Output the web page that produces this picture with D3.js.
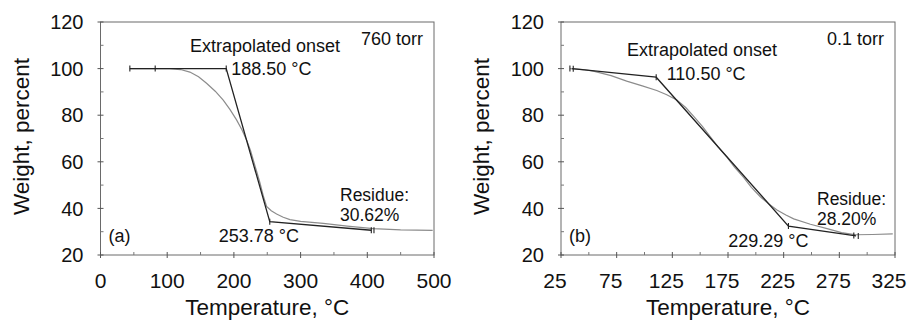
<!DOCTYPE html>
<html>
<head>
<meta charset="utf-8">
<script src="https://cdn.jsdelivr.net/npm/d3@7/dist/d3.min.js"></script>
<style>
  html, body { margin: 0; padding: 0; background: #fff; }
  svg { display: block; font-family: "Liberation Sans", Arial, sans-serif; }
</style>
</head>
<body>
<svg id="chart" width="910" height="321"></svg>
<script>
// ---- TGA curves: temperature (°C) vs. remaining weight (%) ----
const curveA = [
  [44, 100], [80, 100], [104, 100], [120, 99.6], [134, 98.5], [147, 96.5],
  [159, 93.7], [172, 90.3], [184, 86.5], [194, 82.5], [204, 78], [212, 73.8],
  [219, 69.4], [225, 64.8], [229, 60.8], [234, 56], [239, 51], [244, 45.5],
  [249, 40.8], [256, 39], [264, 37.6], [274, 36.2], [284, 35.2], [300, 34.4],
  [334, 33.6], [370, 32.4], [409, 31.3], [450, 30.8], [498, 30.6]
];
const curveB = [
  [33, 100], [45, 99.6], [54, 98.9], [70, 97], [84, 94.6], [98, 92.6],
  [111, 90.6], [120, 88.8], [129, 86.5], [137, 83.3], [144, 79.6], [152, 75.2],
  [159, 70.8], [166, 66.4], [174, 62], [181, 57.6], [189, 53.3], [196, 49],
  [204, 45], [212, 41.8], [219, 39.3], [227, 37.2], [234, 35.5], [249, 33.2],
  [264, 31.3], [277, 29.6], [290, 28.7], [305, 28.8], [323, 29.1]
];

// Tangent construction: baseline start, onset, end of step, residue point
const tangentA = [[44, 100], [188.50, 100], [253.78, 34.3], [406, 30.62]];
const tangentB = [[35, 100], [110.50, 96.3], [229.29, 32.4], [290, 28.20]];

// Extra analysis-range marks on the baseline / residue segments
const marksA = [44, 82, 188.50, 253.78, 406, 410];
const marksB = [33, 36, 110.50, 229.29, 288, 292];

// Axis ticks
const xTicksA = [0, 100, 200, 300, 400, 500];
const xMinorA = [50, 150, 250, 350, 450];
const xTicksB = [25, 75, 125, 175, 225, 275, 325];
const xMinorB = [50, 100, 150, 200, 250, 300];
const yTicks = [20, 40, 60, 80, 100, 120];
const yMinor = [30, 50, 70, 90, 110];

const panelA = {
  left: 100.5, right: 434, xDomain: [0, 500], labelShift: 0,
  curve: curveA, tangent: tangentA, marks: marksA,
  xTicks: xTicksA, xMinor: xMinorA,
  pressure: "760 torr", tag: "(a)", residue: "30.62%"
};
const panelB = {
  left: 561, right: 895, xDomain: [25, 325], labelShift: -6,
  curve: curveB, tangent: tangentB, marks: marksB,
  xTicks: xTicksB, xMinor: xMinorB,
  pressure: "0.1 torr", tag: "(b)", residue: "28.20%"
};

const TOP = 22, BOTTOM = 255;
const svg = d3.select("#chart");
const fmt = d3.format(".2f");

function drawPanel(p, labelPos) {
  const x = d3.scaleLinear().domain(p.xDomain).range([p.left, p.right]);
  const y = d3.scaleLinear().domain([20, 120]).range([BOTTOM, TOP]);
  const g = svg.append("g");

  // frame
  g.append("rect")
    .attr("x", p.left).attr("y", TOP)
    .attr("width", p.right - p.left).attr("height", BOTTOM - TOP)
    .attr("fill", "none").attr("stroke", "#6a6a6a").attr("stroke-width", 1);

  // y axis ticks
  g.selectAll(".ymaj").data(yTicks).join("line")
    .attr("x1", p.left - 3).attr("x2", p.left + 3)
    .attr("y1", d => y(d)).attr("y2", d => y(d))
    .attr("stroke", "#555");
  g.selectAll(".ymin").data(yMinor).join("line")
    .attr("x1", p.left).attr("x2", p.left + 3)
    .attr("y1", d => y(d)).attr("y2", d => y(d))
    .attr("stroke", "#777");
  g.selectAll(".ylab").data(yTicks).join("text")
    .attr("x", p.left - 17).attr("y", d => y(d)).attr("dy", "0.36em")
    .attr("text-anchor", "end").attr("font-size", 20).attr("fill", "#111")
    .text(d => d);

  // x axis ticks
  g.selectAll(".xmaj").data(p.xTicks).join("line")
    .attr("x1", d => x(d)).attr("x2", d => x(d))
    .attr("y1", BOTTOM - 3).attr("y2", BOTTOM + 3)
    .attr("stroke", "#555");
  g.selectAll(".xmin").data(p.xMinor).join("line")
    .attr("x1", d => x(d)).attr("x2", d => x(d))
    .attr("y1", BOTTOM - 3).attr("y2", BOTTOM)
    .attr("stroke", "#777");
  g.selectAll(".xlab").data(p.xTicks).join("text")
    .attr("x", d => x(d) + p.labelShift).attr("y", 288)
    .attr("text-anchor", "middle").attr("font-size", 21).attr("fill", "#111")
    .text(d => d);

  // axis titles
  g.append("text")
    .attr("x", (p.left + p.right) / 2).attr("y", 315)
    .attr("text-anchor", "middle").attr("font-size", 22.5).attr("fill", "#111")
    .text("Temperature, °C");
  g.append("text")
    .attr("transform", `translate(${p.left - 72},${(TOP + BOTTOM) / 2 - 2}) rotate(-90)`)
    .attr("text-anchor", "middle").attr("font-size", 22.5).attr("fill", "#111")
    .text("Weight, percent");

  const line = d3.line().x(d => x(d[0])).y(d => y(d[1]));

  // measured curve
  g.append("path").datum(p.curve)
    .attr("d", line).attr("fill", "none")
    .attr("stroke", "#8c8c8c").attr("stroke-width", 1.2);

  // tangent construction
  g.append("path").datum(p.tangent)
    .attr("d", line).attr("fill", "none")
    .attr("stroke", "#222").attr("stroke-width", 1.3);

  // small vertical marks at analysis points, placed on the tangent path
  const tx = p.tangent.map(d => d[0]);
  const ty = p.tangent.map(d => d[1]);
  const onTangent = t => {
    for (let i = 0; i < tx.length - 1; i++) {
      if (t >= tx[i] && t <= tx[i + 1]) {
        const f = (t - tx[i]) / (tx[i + 1] - tx[i]);
        return ty[i] + f * (ty[i + 1] - ty[i]);
      }
    }
    return t < tx[0] ? ty[0] : ty[ty.length - 1];
  };
  g.selectAll(".mark").data(p.marks).join("line")
    .attr("x1", d => x(d)).attr("x2", d => x(d))
    .attr("y1", d => y(onTangent(d)) - 3).attr("y2", d => y(onTangent(d)) + 3)
    .attr("stroke", "#222").attr("stroke-width", 1.1);

  // annotations
  const onset = p.tangent[1], end = p.tangent[2];
  const txt = (xx, yy, s, anchor, size) => g.append("text")
    .attr("x", xx).attr("y", yy).attr("font-size", size || 18).attr("fill", "#111")
    .attr("text-anchor", anchor || "start").text(s);

  txt(labelPos.onsetTitle[0], labelPos.onsetTitle[1], "Extrapolated onset");
  txt(x(onset[0]) + labelPos.onsetDx, y(onset[1]) + labelPos.onsetDy, fmt(onset[0]) + " °C");
  txt(x(end[0]) + labelPos.endDx, y(end[1]) + labelPos.endDy, fmt(end[0]) + " °C", "middle");
  // two-line residue note
  txt(labelPos.residue[0], labelPos.residue[1], "Residue:", "start", 17.5);
  txt(labelPos.residue[0], labelPos.residue[1] + 20, p.residue, "start", 17.5);
  txt(p.right - 11, 45, p.pressure, "end");
  txt(p.left + 8, 242, p.tag);
}

drawPanel(panelA, {
  onsetTitle: [190, 52], onsetDx: 5, onsetDy: 6.5,
  endDx: -11, endDy: 20, residue: [340, 201]
});
drawPanel(panelB, {
  onsetTitle: [627, 56], onsetDx: 10.5, onsetDy: 3,
  endDx: -20, endDy: 20.5, residue: [817, 205]
});
</script>
</body>
</html>
